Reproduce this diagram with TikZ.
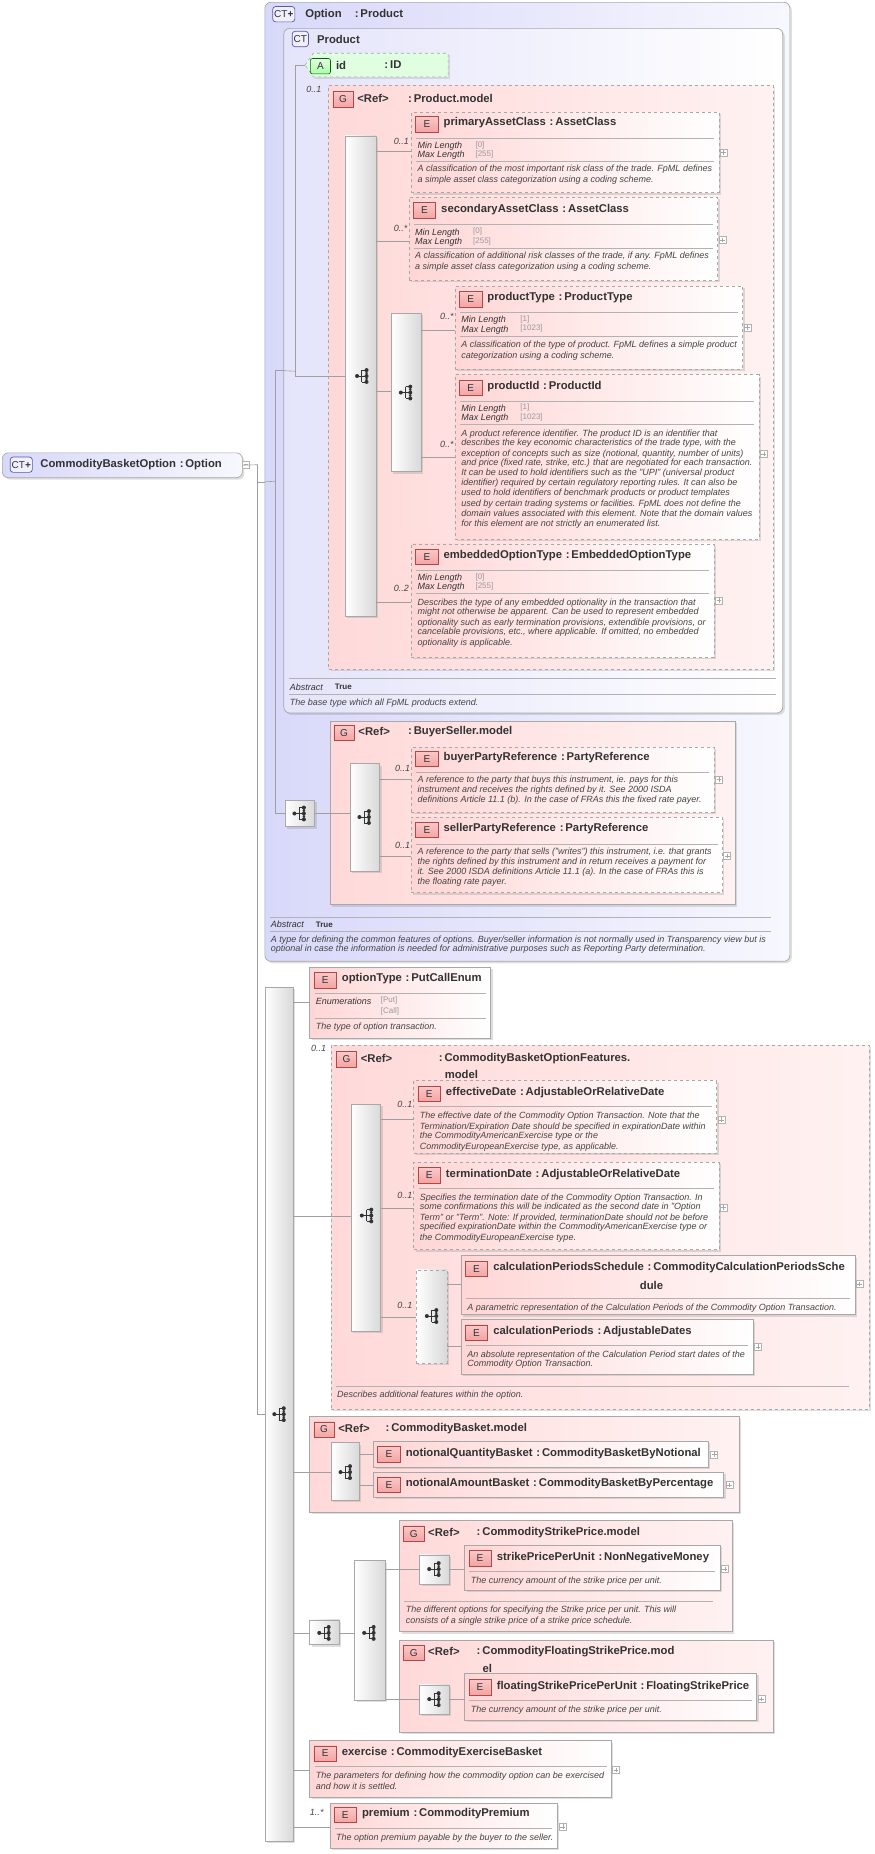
\documentclass[tikz,border=0pt]{standalone}
\usepackage{fontspec}
\setmainfont{Liberation Sans}
\usetikzlibrary{shadows,calc}
\definecolor{epink}{HTML}{FFD6D6}
\definecolor{gpink}{HTML}{FFD9D9}
\definecolor{lav}{HTML}{D8D8FA}
\definecolor{lav2}{HTML}{E4E4FB}
\definecolor{bord}{HTML}{A8A8A8}
\definecolor{txt}{HTML}{333333}
\definecolor{dtxt}{HTML}{444444}
\definecolor{badR}{HTML}{F5A3A3}
\definecolor{badRb}{HTML}{B04848}
\newcounter{tc}
\newcommand\bx[6]{%
\pgfmathsetmacro\bw{(#5-#3)*1.1824}\pgfmathsetmacro\bh{(#6-#4)*1.1824}%
\node[#2,minimum width=\bw pt,minimum height=\bh pt,inner sep=0pt,outer sep=0pt] (#1) at ({(#3+#5)/2},{(#4+#6)/2}) {};}
\newcommand\tx[4]{\stepcounter{tc}\node[#1,anchor=west,inner sep=0pt] (t\arabic{tc}) at (#2,#3) {#4};}
\newcommand\hc[3]{\draw[conn] (#1.east |- 0,#3) -- (#2.west |- 0,#3);}
\newcommand\pb[2]{\stepcounter{tc}\node[plusb] (p\arabic{tc}) at (#1,#2) {};\draw[gray!70,line width=0.4pt] ($(#1,#2)+(-2,0)$) -- ($(#1,#2)+(2,0)$) ($(#1,#2)+(0,-2)$) -- ($(#1,#2)+(0,2)$);}
\newcommand\Eb[2]{\stepcounter{tc}\node[badge] (b\arabic{tc}) at (#1,#2) {E};}
\newcommand\Gb[2]{\stepcounter{tc}\node[badge,minimum width=17*1.1824pt] (b\arabic{tc}) at (#1,#2) {G};}
\begin{document}
\begin{tikzpicture}[x=1.1824pt,y=-1.1824pt,
 conn/.style={draw=gray!75,line width=0.6pt},
 ln/.style={draw=gray!60,line width=0.5pt},
 el/.style={draw=bord,line width=0.7pt,left color=epink,right color=white,drop shadow={opacity=0.25,shadow xshift=2pt,shadow yshift=-2pt}},
 eld/.style={el,dashed},
 grp/.style={draw=bord,line width=0.7pt,left color=gpink,right color=gpink!35!white,drop shadow={opacity=0.25,shadow xshift=2pt,shadow yshift=-2pt}},
 grpd/.style={grp,dashed},
 comp/.style={draw=bord,line width=0.7pt,left color=white,right color=gray!30,drop shadow={opacity=0.25,shadow xshift=2pt,shadow yshift=-2pt}},
 compd/.style={comp,dashed},
 ctbox/.style={draw=bord,line width=0.7pt,rounded corners=6pt,left color=lav,right color=lav!20!white,drop shadow={opacity=0.25,shadow xshift=2pt,shadow yshift=-2pt}},
 ctbox2/.style={draw=bord,line width=0.7pt,rounded corners=6pt,left color=lav2,right color=white,drop shadow={opacity=0.25,shadow xshift=2pt,shadow yshift=-2pt}},
 badge/.style={draw=badRb,line width=0.6pt,top color=badR!60!white,bottom color=badR,text=txt,font=\fontsize{10}{10}\selectfont,minimum width=19*1.1824pt,minimum height=13*1.1824pt,inner sep=0pt},
 ctb/.style={draw=blue!30!gray,line width=0.7pt,rounded corners=3pt,fill=lav!80!blue!20,text=txt,font=\fontsize{10}{10}\selectfont,minimum height=13*1.1824pt,inner sep=1.5pt},
 plusb/.style={draw=gray!60,line width=0.4pt,fill=white,minimum size=7pt,inner sep=0pt},
 tb/.style={text=txt,font=\fontsize{11.3}{13}\selectfont\bfseries},
 d/.style={text=dtxt,font=\fontsize{9}{10}\selectfont\itshape},
 lab/.style={text=txt,font=\fontsize{9}{10}\selectfont\itshape},
 val/.style={text=gray!80,font=\fontsize{8}{9}\selectfont},
 tru/.style={text=txt,font=\fontsize{8}{9}\selectfont\bfseries},
 m/.style={text=dtxt,font=\fontsize{9}{10}\selectfont\itshape},
 seq/.pic={\fill[txt] (-5,0) circle (1.7);\draw[txt,line width=0.8pt] (-5,0)--(-1,0) (-1,-5)--(-1,5) (-1,-5)--(3,-5) (-1,0)--(3,0) (-1,5)--(3,5);\fill[txt] (3,-5) circle (1.7) (3,0) circle (1.7) (3,5) circle (1.7) (3,-2.5) circle(1.2) (3,2.5) circle (1.2);}
]
\useasboundingbox (0,0) rectangle (740,1568);
% ---------- root
\bx{root}{ctbox}{2}{383}{205}{404}
\node[ctb] (brt) at (18,393) {CT\textbf{+}};
\tx{tb}{34}{393}{CommodityBasketOption\,\,:\,Option}
\node[plusb] (rmin) at (208,393) {};\draw[gray!70,line width=0.4pt] (206,393)--(210,393);
% ---------- Option
\bx{opt}{ctbox}{224}{2}{668}{813}
\node[ctb] (bopt) at (240,12) {CT\textbf{+}};
\tx{tb}{258}{12}{Option\quad\,:\,Product}
\bx{prod}{ctbox2}{240}{24}{662}{603}
\node[ctb] (bprod) at (254,33) {CT};
\tx{tb}{268}{33}{Product}
% id attribute
\bx{idA}{}{258}{45}{379}{65}
\fill[green!12,drop shadow={opacity=0.2,shadow xshift=2pt,shadow yshift=-2pt}] (258,55)--(265,45)--(379,45)--(379,65)--(265,65)--cycle;
\draw[gray!70,dashed,line width=0.6pt] (258,55)--(265,45)--(379,45)--(379,65)--(265,65)--cycle;
\node[draw=green!40!black,line width=0.6pt,rounded corners=2pt,top color=green!10,bottom color=green!35,text=txt,font=\fontsize{10}{10}\selectfont,minimum width=17*1.1824pt,minimum height=13*1.1824pt,inner sep=0pt] (bid) at (271,56) {A};
\tx{tb}{284}{55}{id}
\tx{tb}{325}{55}{:\,ID}
% Product.model
\tx{m}{259}{76}{0..1}
\bx{pm}{grpd}{278}{72}{654}{566}
\Gb{290}{84}
\tx{tb}{302}{83}{<Ref>}
\tx{tb}{345}{83}{:\,Product.model}
\bx{cpm}{comp}{292}{115}{318}{521}
\pic at (307,318) {seq};
% primaryAssetClass
\bx{pac}{eld}{348}{95}{608}{163}
\Eb{361}{105}\tx{tb}{375}{104}{primaryAssetClass\,\,:\,AssetClass}
\draw[ln] (352,117)--(604,117);
\tx{lab}{353}{124}{Min Length}\tx{val}{402}{123}{[0]}
\tx{lab}{353}{131}{Max Length}\tx{val}{402}{131}{[255]}
\draw[ln] (352,136)--(604,136);
\tx{d}{353}{143}{A classification of the most important risk class of the trade. FpML defines}
\tx{d}{353}{152}{a simple asset class categorization using a coding scheme.}
\pb{612}{129}
\tx{m}{333}{120}{0..1}\hc{cpm}{pac}{128}
% secondaryAssetClass
\bx{sac}{eld}{346}{167}{607}{237}
\Eb{359}{178}\tx{tb}{373}{177}{secondaryAssetClass\,\,:\,AssetClass}
\draw[ln] (350,190)--(603,190);
\tx{lab}{351}{197}{Min Length}\tx{val}{400}{196}{[0]}
\tx{lab}{351}{205}{Max Length}\tx{val}{400}{204}{[255]}
\draw[ln] (350,210)--(603,210);
\tx{d}{351}{217}{A classification of additional risk classes of the trade, if any. FpML defines}
\tx{d}{351}{226}{a simple asset class categorization using a coding scheme.}
\pb{611}{203}
\tx{m}{333}{193}{0..*}\hc{cpm}{sac}{204}
% nested choice
\bx{cn}{comp}{331}{265}{356}{399}
\pic at (344,332) {seq};
\hc{cpm}{cn}{331}
% productType
\bx{pt}{eld}{385}{242}{628}{312}
\Eb{398}{253}\tx{tb}{412}{252}{productType\,\,:\,ProductType}
\draw[ln] (389,264)--(624,264);
\tx{lab}{390}{271}{Min Length}\tx{val}{440}{270}{[1]}
\tx{lab}{390}{279}{Max Length}\tx{val}{440}{278}{[1023]}
\draw[ln] (389,284)--(624,284);
\tx{d}{390}{292}{A classification of the type of product. FpML defines a simple product}
\tx{d}{390}{301}{categorization using a coding scheme.}
\pb{632}{277}
\tx{m}{372}{268}{0..*}\hc{cn}{pt}{279}
% productId
\bx{pid}{eld}{385}{317}{642}{456}
\Eb{398}{328}\tx{tb}{412}{327}{productId\,\,:\,ProductId}
\draw[ln] (389,339)--(638,339);
\tx{lab}{390}{346}{Min Length}\tx{val}{440}{345}{[1]}
\tx{lab}{390}{354}{Max Length}\tx{val}{440}{353}{[1023]}
\draw[ln] (389,359)--(638,359);
\tx{d}{390}{367}{A product reference identifier. The product ID is an identifier that}
\tx{d}{390}{375}{describes the key economic characteristics of the trade type, with the}
\tx{d}{390}{384}{exception of concepts such as size (notional, quantity, number of units)}
\tx{d}{390}{392}{and price (fixed rate, strike, etc.) that are negotiated for each transaction.}
\tx{d}{390}{400}{It can be used to hold identifiers such as the "UPI" (universal product}
\tx{d}{390}{409}{identifier) required by certain regulatory reporting rules. It can also be}
\tx{d}{390}{417}{used to hold identifiers of benchmark products or product templates}
\tx{d}{390}{426}{used by certain trading systems or facilities. FpML does not define the}
\tx{d}{390}{434}{domain values associated with this element. Note that the domain values}
\tx{d}{390}{443}{for this element are not strictly an enumerated list.}
\pb{646}{384}
\tx{m}{372}{376}{0..*}\hc{cn}{pid}{387}
% embeddedOptionType
\bx{eot}{eld}{348}{460}{604}{556}
\Eb{361}{471}\tx{tb}{375}{470}{embeddedOptionType\,\,:\,EmbeddedOptionType}
\draw[ln] (352,482)--(600,482);
\tx{lab}{353}{489}{Min Length}\tx{val}{402}{488}{[0]}
\tx{lab}{353}{497}{Max Length}\tx{val}{402}{496}{[255]}
\draw[ln] (352,502)--(600,502);
\tx{d}{353}{510}{Describes the type of any embedded optionality in the transaction that}
\tx{d}{353}{518}{might not otherwise be apparent. Can be used to represent embedded}
\tx{d}{353}{527}{optionality such as early termination provisions, extendible provisions, or}
\tx{d}{353}{535}{cancelable provisions, etc., where applicable. If omitted, no embedded}
\tx{d}{353}{544}{optionality is applicable.}
\pb{608}{508}
\tx{m}{333}{498}{0..2}\hc{cpm}{eot}{509}
% Product footer
\draw[ln] (244,574)--(656,574);
\tx{lab}{245}{581}{Abstract}\tx{tru}{283}{581}{True}
\draw[ln] (244,587)--(656,587);
\tx{d}{245}{595}{The base type which all FpML products extend.}
% Product connectors
\coordinate (j1) at (233,407);
\coordinate (j2) at (250,314);
\draw[conn] (opt.west) -- (j1);
\draw[conn] (j1) |- (prod.west);
\draw[conn] (prod.west) -- (j2);
\draw[conn] (j2) |- (idA.west);
\draw[conn] (j2) |- (cpm.west);
% BuyerSeller
\bx{sqa}{comp}{241}{677}{266}{699}
\pic at (254,688) {seq};
\draw[conn] (j1) |- (sqa.west);
\bx{bs}{grp}{279}{610}{622}{765}
\Gb{291}{620}\tx{tb}{303}{619}{<Ref>}\tx{tb}{345}{619}{:\,BuyerSeller.model}
\bx{cbs}{comp}{296}{646}{321}{737}
\pic at (309,691) {seq};
\hc{sqa}{cbs}{688}
\bx{bpr}{eld}{348}{632}{604}{687}
\Eb{361}{642}\tx{tb}{375}{641}{buyerPartyReference\,\,:\,PartyReference}
\draw[ln] (352,653)--(600,653);
\tx{d}{353}{660}{A reference to the party that buys this instrument, ie. pays for this}
\tx{d}{353}{668}{instrument and receives the rights defined by it. See 2000 ISDA}
\tx{d}{353}{677}{definitions Article 11.1 (b). In the case of FRAs this the fixed rate payer.}
\pb{608}{659}
\tx{m}{334}{650}{0..1}\hc{cbs}{bpr}{659}
\bx{spr}{eld}{348}{691}{611}{755}
\Eb{361}{702}\tx{tb}{375}{701}{sellerPartyReference\,\,:\,PartyReference}
\draw[ln] (352,714)--(607,714);
\tx{d}{353}{721}{A reference to the party that sells ("writes") this instrument, i.e. that grants}
\tx{d}{353}{729}{the rights defined by this instrument and in return receives a payment for}
\tx{d}{353}{738}{it. See 2000 ISDA definitions Article 11.1 (a). In the case of FRAs this is}
\tx{d}{353}{746}{the floating rate payer.}
\pb{615}{724}
\tx{m}{334}{715}{0..1}\hc{cbs}{spr}{724}
% Option footer
\draw[ln] (228,776)--(652,776);
\tx{lab}{229}{782}{Abstract}\tx{tru}{267}{782}{True}
\draw[ln] (228,788)--(652,788);
\tx{d}{229}{795}{A type for defining the common features of options. Buyer/seller information is not normally used in Transparency view but is}
\tx{d}{229}{803}{optional in case the information is needed for administrative purposes such as Reporting Party determination.}
% ---------- lower sequence
\bx{sqb}{comp}{224}{835}{248}{1557}
\pic at (237,1196) {seq};
\coordinate (j0) at (218,393);
\draw[conn] (root.east) -- (j0);
\draw[conn] (j0) |- (opt.west);
\draw[conn] (j0) |- (sqb.west);
% optionType
\bx{ot}{el}{262}{818}{415}{878}
\Eb{275}{829}\tx{tb}{289}{828}{optionType\,\,:\,PutCallEnum}
\draw[ln] (266,840)--(411,840);
\tx{lab}{267}{847}{Enumerations}\tx{val}{322}{846}{[Put]}\tx{val}{322}{855}{[Call]}
\draw[ln] (266,861)--(411,861);
\tx{d}{267}{869}{The type of option transaction.}
\hc{sqb}{ot}{848}
% Features group
\tx{m}{263}{887}{0..1}
\bx{fg}{grpd}{280}{884}{735}{1192}
\Gb{293}{896}\tx{tb}{305}{895}{<Ref>}\tx{tb}{371}{895}{:\,CommodityBasketOptionFeatures.}\tx{tb}{376}{909}{model}
\bx{cfg}{comp}{297}{934}{322}{1126}
\pic at (311,1028) {seq};
\hc{sqb}{cfg}{1029}
\bx{efd}{eld}{350}{914}{606}{975}
\Eb{363}{925}\tx{tb}{377}{924}{effectiveDate\,\,:\,AdjustableOrRelativeDate}
\draw[ln] (354,936)--(602,936);
\tx{d}{355}{944}{The effective date of the Commodity Option Transaction. Note that the}
\tx{d}{355}{953}{Termination/Expiration Date should be specified in expirationDate within}
\tx{d}{355}{961}{the CommodityAmericanExercise type or the}
\tx{d}{355}{970}{CommodityEuropeanExercise type, as applicable.}
\pb{610}{947}
\tx{m}{336}{934}{0..1}\hc{cfg}{efd}{947}
\bx{trd}{eld}{350}{983}{608}{1057}
\Eb{363}{994}\tx{tb}{377}{993}{terminationDate\,\,:\,AdjustableOrRelativeDate}
\draw[ln] (354,1005)--(604,1005);
\tx{d}{355}{1013}{Specifies the termination date of the Commodity Option Transaction. In}
\tx{d}{355}{1021}{some confirmations this will be indicated as the second date in "Option}
\tx{d}{355}{1030}{Term" or "Term". Note: If provided, terminationDate should not be before}
\tx{d}{355}{1038}{specified expirationDate within the CommodityAmericanExercise type or}
\tx{d}{355}{1047}{the CommodityEuropeanExercise type.}
\pb{612}{1021}
\tx{m}{336}{1011}{0..1}\hc{cfg}{trd}{1022}
\bx{ccp}{compd}{352}{1074}{378}{1153}
\pic at (366,1113) {seq};
\tx{m}{336}{1104}{0..1}\hc{cfg}{ccp}{1114}
\bx{cps}{el}{390}{1062}{723}{1112}
\Eb{403}{1073}\tx{tb}{417}{1072}{calculationPeriodsSchedule\,\,:\,CommodityCalculationPeriodsSche}
\tx{tb}{541}{1087}{dule}
\draw[ln] (394,1098)--(719,1098);
\tx{d}{395}{1106}{A parametric representation of the Calculation Periods of the Commodity Option Transaction.}
\pb{727}{1086}
\hc{ccp}{cps}{1086}
\bx{cpd}{el}{390}{1116}{637}{1162}
\Eb{403}{1127}\tx{tb}{417}{1126}{calculationPeriods\,\,:\,AdjustableDates}
\draw[ln] (394,1138)--(633,1138);
\tx{d}{395}{1146}{An absolute representation of the Calculation Period start dates of the}
\tx{d}{395}{1154}{Commodity Option Transaction.}
\pb{641}{1139}
\hc{ccp}{cpd}{1139}
\draw[ln] (284,1172)--(718,1172);
\tx{d}{285}{1180}{Describes additional features within the option.}
% CommodityBasket.model
\bx{cbm}{grp}{262}{1198}{625}{1279}
\Gb{274}{1209}\tx{tb}{286}{1208}{<Ref>}\tx{tb}{326}{1208}{:\,CommodityBasket.model}
\bx{ccb}{comp}{280}{1220}{304}{1269}
\pic at (293,1245) {seq};
\hc{sqb}{ccb}{1245}
\bx{nqb}{el}{316}{1219}{599}{1241}
\Eb{329}{1230}\tx{tb}{343}{1229}{notionalQuantityBasket\,\,:\,CommodityBasketByNotional}
\pb{604}{1230}\hc{ccb}{nqb}{1230}
\bx{nab}{el}{316}{1245}{612}{1266}
\Eb{329}{1256}\tx{tb}{343}{1255}{notionalAmountBasket\,\,:\,CommodityBasketByPercentage}
\pb{617}{1256}\hc{ccb}{nab}{1256}
% strike choice
\bx{csp}{comp}{262}{1370}{287}{1391}
\pic at (275,1381) {seq};
\hc{sqb}{csp}{1381}
\bx{ssp}{comp}{300}{1320}{326}{1438}
\pic at (313,1381) {seq};
\hc{csp}{ssp}{1381}
\bx{spm}{grp}{338}{1286}{619}{1380}
\Gb{350}{1297}\tx{tb}{362}{1296}{<Ref>}\tx{tb}{403}{1296}{:\,CommodityStrikePrice.model}
\bx{cspm}{comp}{355}{1315}{380}{1340}
\pic at (368,1327) {seq};
\hc{ssp}{cspm}{1327}
\bx{sppu}{el}{393}{1307}{609}{1345}
\Eb{406}{1318}\tx{tb}{420}{1317}{strikePricePerUnit\,\,:\,NonNegativeMoney}
\draw[ln] (397,1329)--(605,1329);
\tx{d}{398}{1337}{The currency amount of the strike price per unit.}
\pb{613}{1327}\hc{cspm}{sppu}{1327}
\draw[ln] (342,1354)--(603,1354);
\tx{d}{343}{1362}{The different options for specifying the Strike price per unit. This will}
\tx{d}{343}{1371}{consists of a single strike price of a strike price schedule.}
\bx{fsp}{grp}{338}{1387}{654}{1465}
\Gb{350}{1398}\tx{tb}{362}{1397}{<Ref>}\tx{tb}{403}{1397}{:\,CommodityFloatingStrikePrice.mod}\tx{tb}{408}{1411}{el}
\bx{cfsp}{comp}{355}{1425}{380}{1450}
\pic at (368,1437) {seq};
\hc{ssp}{cfsp}{1437}
\bx{fspu}{el}{393}{1415}{640}{1455}
\Eb{406}{1427}\tx{tb}{420}{1426}{floatingStrikePricePerUnit\,\,:\,FloatingStrikePrice}
\draw[ln] (397,1438)--(636,1438);
\tx{d}{398}{1446}{The currency amount of the strike price per unit.}
\pb{644}{1437}\hc{cfsp}{fspu}{1437}
% exercise
\bx{exe}{el}{262}{1472}{517}{1520}
\Eb{275}{1483}\tx{tb}{289}{1482}{exercise\,\,:\,CommodityExerciseBasket}
\draw[ln] (266,1494)--(513,1494);
\tx{d}{267}{1502}{The parameters for defining how the commodity option can be exercised}
\tx{d}{267}{1511}{and how it is settled.}
\pb{521}{1497}\hc{sqb}{exe}{1497}
% premium
\tx{m}{262}{1533}{1..*}
\bx{prm}{el}{279}{1525}{471}{1563}
\Eb{292}{1535}\tx{tb}{306}{1534}{premium\,\,:\,CommodityPremium}
\draw[ln] (283,1546)--(467,1546);
\tx{d}{284}{1555}{The option premium payable by the buyer to the seller.}
\pb{476}{1545}\hc{sqb}{prm}{1545}
\end{tikzpicture}
\end{document}
